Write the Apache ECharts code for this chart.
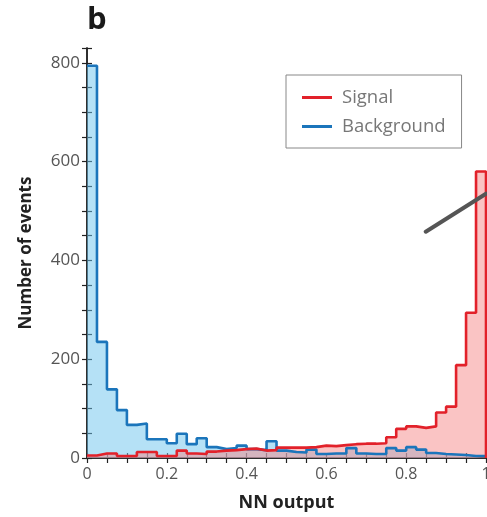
<!DOCTYPE html>
<html>
<head>
<meta charset="utf-8">
<script src="https://cdn.jsdelivr.net/npm/echarts@6/dist/echarts.min.js"></script>
<style>
  html, body { margin: 0; padding: 0; background: #fff; }
  #chart { width: 487px; height: 517px; }
</style>
</head>
<body>
<div id="chart"></div>
<script>
// 40 bins of width 0.025 over the NN output range 0..1
const binWidth = 0.025;
const signalCounts = [5, 9, 9, 4, 4, 12, 12, 4, 4, 15, 9, 8, 13, 15, 16, 18, 19, 15, 16, 21,
  21, 21, 22, 25, 24, 26, 28, 29, 29, 30, 42, 59, 64, 61, 64, 92, 104, 188, 294, 580];
const backgroundCounts = [794, 235, 139, 97, 67, 70, 38, 38, 30, 49, 28, 40, 22, 18, 20, 25, 18, 16, 34, 15,
  12, 11, 17, 8, 9, 9, 20, 9, 8, 8, 20, 15, 22, 17, 10, 8, 7, 6, 4, 4];
const xLabels = ['0', '0.2', '0.4', '0.6', '0.8', '1'];
const yLabels = ['0', '200', '400', '600', '800'];
const arrowLine = [[0.849, 458], [1.0, 535]];

const RED = '#e2212a';
const BLUE = '#1b75bb';
const FONT = 'Open Sans';

// step outline: left edge of each bin, then close on the right edge
function toSteps(counts) {
  const pts = counts.map((v, i) => [i * binWidth, v]);
  pts.push([counts.length * binWidth, counts[counts.length - 1]]);
  pts.push([counts.length * binWidth, 0]);
  return pts;
}

const chart = echarts.init(document.getElementById('chart'));

const tickStyle = { inside: true, length: 5, lineStyle: { color: '#222', width: 1.2 } };
const lineStyleAxis = { show: true, lineStyle: { color: '#222', width: 1.5 } };

function xLabel(v) {
  const s = String(Math.round(v * 100) / 100);
  return xLabels.indexOf(s) >= 0 ? s : '';
}
function yLabel(v) {
  const s = String(Math.round(v));
  return yLabels.indexOf(s) >= 0 ? s : '';
}

chart.setOption({
  animation: false,
  textStyle: { fontFamily: FONT },
  graphic: [{
    type: 'text', left: 87, top: 5,
    style: { text: 'b', font: 'bold 31px ' + FONT, fill: '#1a1a1a' }
  }],
  grid: { left: 87, right: 1, top: 48, bottom: 59, outerBoundsMode: 'none' },
  legend: {
    left: 286, top: 75,
    orient: 'vertical',
    padding: [13, 16, 12, 16],
    itemGap: 10,
    itemWidth: 30, itemHeight: 3,
    borderColor: '#888', borderWidth: 1,
    textStyle: { color: '#777', fontSize: 18.5, fontFamily: FONT, padding: [0, 0, 0, 5] },
    data: [
      { name: 'Signal', icon: 'rect', itemStyle: { color: RED } },
      { name: 'Background', icon: 'rect', itemStyle: { color: BLUE } }
    ]
  },
  xAxis: [{
    type: 'value', min: 0, max: 1, interval: 0.05,
    name: 'NN output', nameLocation: 'middle', nameGap: 36,
    nameTextStyle: { fontSize: 18, fontWeight: 'bold', color: '#222', fontFamily: FONT },
    axisLine: lineStyleAxis, axisTick: tickStyle, splitLine: { show: false },
    axisLabel: { formatter: xLabel, fontSize: 16, color: '#555', margin: 8, fontFamily: FONT }
  }, {
    type: 'value', min: 0, max: 1, interval: 0.05, position: 'top',
    axisLine: lineStyleAxis, axisTick: tickStyle, splitLine: { show: false },
    axisLabel: { show: false }
  }],
  yAxis: [{
    type: 'value', min: 0, max: 830, interval: 50,
    name: 'Number of events', nameLocation: 'middle', nameGap: 52,
    nameTextStyle: { fontSize: 17, fontWeight: 'bold', color: '#222', fontFamily: FONT },
    axisLine: lineStyleAxis, axisTick: tickStyle, splitLine: { show: false },
    axisLabel: { formatter: yLabel, fontSize: 17, color: '#555', margin: 7, fontFamily: FONT }
  }, {
    type: 'value', min: 0, max: 830, interval: 50, position: 'right',
    axisLine: lineStyleAxis, axisTick: tickStyle, splitLine: { show: false },
    axisLabel: { show: false }
  }],
  series: [
    {
      name: 'Background fill', type: 'line', step: 'end', data: toSteps(backgroundCounts),
      symbol: 'none', z: 1, lineStyle: { width: 0 },
      areaStyle: { color: '#6cc3ee', opacity: 0.5 }
    },
    {
      name: 'Signal fill', type: 'line', step: 'end', data: toSteps(signalCounts),
      symbol: 'none', z: 1, lineStyle: { width: 0 },
      areaStyle: { color: '#f58a8a', opacity: 0.5 }
    },
    {
      name: 'Background', type: 'line', step: 'end', data: toSteps(backgroundCounts),
      symbol: 'none', z: 3, itemStyle: { color: BLUE },
      lineStyle: { color: BLUE, width: 2.6 }
    },
    {
      name: 'Signal', type: 'line', step: 'end', data: toSteps(signalCounts),
      symbol: 'none', z: 4, itemStyle: { color: RED },
      lineStyle: { color: RED, width: 2.6 }
    },
    {
      name: 'pointer', type: 'line', data: arrowLine, symbol: 'none', z: 5,
      lineStyle: { color: '#555', width: 4, cap: 'round' }
    }
  ]
});
</script>
</body>
</html>
